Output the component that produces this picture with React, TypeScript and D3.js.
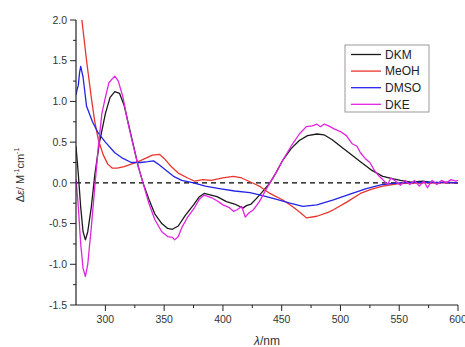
import React from "react";
import * as d3 from "d3";

const seriesNames = ["DKM", "MeOH", "DMSO", "DKE"];
const seriesColors = ["#1a1a1a", "#e8352b", "#2424e6", "#e024e0"];

const dkmX = [275,277,279,281,283,285,288,291,295,300,304,308,312,316,320,324,328,332,337,342,348,353,357,362,368,375,380,384,390,395,403,410,417,420,424,428,433,440,445,451,458,465,472,480,486,493,500,508,517,526,536,545,551,560,570,580,590,600];
const dkmY = [0.45,0.1,-0.3,-0.6,-0.7,-0.6,-0.3,0.1,0.5,0.85,1.05,1.12,1.1,0.95,0.7,0.45,0.2,0.0,-0.2,-0.38,-0.5,-0.56,-0.57,-0.53,-0.4,-0.27,-0.17,-0.13,-0.15,-0.17,-0.23,-0.26,-0.31,-0.28,-0.26,-0.2,-0.12,0.0,0.12,0.28,0.42,0.52,0.58,0.6,0.59,0.53,0.45,0.36,0.26,0.16,0.08,0.05,0.03,0.01,0.02,0.0,0.01,0.0];

const meohX = [280,284,288,291,294,298,302,306,310,316,322,328,334,340,346,350,356,362,370,376,383,390,400,409,416,422,428,432,440,451,460,467,471,480,490,494,505,517,526,536,550,570,600];
const meohY = [2.0,1.5,1.05,0.75,0.53,0.35,0.23,0.18,0.18,0.2,0.23,0.26,0.3,0.34,0.35,0.3,0.2,0.12,0.06,0.02,0.04,0.03,0.06,0.08,0.06,0.02,-0.02,-0.05,-0.13,-0.21,-0.3,-0.38,-0.43,-0.41,-0.36,-0.33,-0.24,-0.13,-0.08,-0.04,-0.01,0.0,0.0];

const dmsoX = [275,276,277,278,279,281,284,289,294,300,308,315,322,330,336,341,346,352,358,365,375,385,397,410,423,432,445,457,468,480,494,510,522,536,550,575,600];
const dmsoY = [1.08,1.15,1.2,1.35,1.43,1.3,0.94,0.75,0.61,0.5,0.37,0.3,0.25,0.25,0.26,0.27,0.22,0.15,0.08,0.03,0.0,-0.04,-0.07,-0.1,-0.12,-0.15,-0.2,-0.25,-0.29,-0.27,-0.21,-0.13,-0.07,-0.02,0.0,0.01,0.0];

const dkeX = [275,277,279,281,283,285,288,291,294,297,300,303,306,308,311,315,319,323,328,332,337,342,348,353,357,359,362,365,370,376,380,384,390,395,400,405,409,412,416,419,422,426,431,436,440,445,451,458,465,471,476,480,483,486,490,495,500,505,510,514,517,521,525,529,533,536,540,543,547,551,555,559,563,567,571,574,578,582,586,590,594,598,600];
const dkeY = [0.05,-0.3,-0.75,-1.05,-1.15,-1.0,-0.55,-0.05,0.45,0.85,1.05,1.23,1.28,1.31,1.25,1.05,0.75,0.5,0.2,0.0,-0.25,-0.45,-0.6,-0.66,-0.67,-0.7,-0.66,-0.55,-0.42,-0.3,-0.2,-0.15,-0.18,-0.22,-0.27,-0.3,-0.35,-0.33,-0.29,-0.42,-0.37,-0.33,-0.23,-0.1,0.0,0.12,0.28,0.45,0.6,0.69,0.7,0.72,0.69,0.72,0.7,0.66,0.63,0.58,0.48,0.45,0.37,0.3,0.25,0.15,0.08,0.04,-0.02,0.06,0.02,-0.03,0.03,-0.02,0.03,-0.04,0.02,-0.06,0.03,-0.02,0.03,0.0,0.04,0.02,0.03];

const xTicks = [300, 350, 400, 450, 500, 550, 600];
const xMinor = [325, 375, 425, 475, 525, 575];
const yTicks = [-1.5, -1.0, -0.5, 0.0, 0.5, 1.0, 1.5, 2.0];
const yMinor = [-1.25, -0.75, -0.25, 0.25, 0.75, 1.25, 1.75];

export default function App() {
  const W = 465, H = 347;
  const x = d3.scaleLinear().domain([275, 600]).range([76, 458]);
  const y = d3.scaleLinear().domain([-1.5, 2.0]).range([305, 20]);
  const line = d3.line<[number, number]>().x(d => x(d[0])).y(d => y(d[1]));
  const xs = [dkmX, meohX, dmsoX, dkeX];
  const ys = [dkmY, meohY, dmsoY, dkeY];
  const font = "Liberation Sans, Arial, sans-serif";
  const tc = "#333";
  return (
    <svg width={W} height={H} style={{ position: "absolute", left: 0, top: 0 }} fontFamily={font}>
      <rect width={W} height={H} fill="#fff" />
      <defs>
        <clipPath id="plot">
          <rect x={76} y={20} width={382} height={285} />
        </clipPath>
      </defs>
      <line x1={x(275)} x2={x(600)} y1={y(0)} y2={y(0)} stroke="#000" strokeWidth={1.2} strokeDasharray="5,4" />
      <g clipPath="url(#plot)">
        {xs.map((xa, i) => (
          <path key={i} d={line(xa.map((v, j) => [v, ys[i][j]] as [number, number])) || ""} fill="none" stroke={seriesColors[i]} strokeWidth={1.3} strokeLinejoin="round" />
        ))}
      </g>
      {/* axes */}
      <line x1={76} x2={76} y1={y(2.0)} y2={y(-1.5)} stroke="#222" strokeWidth={1.2} />
      <line x1={76} x2={458} y1={305} y2={305} stroke="#222" strokeWidth={1.2} />
      {yTicks.map(t => (
        <g key={t}>
          <line x1={70} x2={76} y1={y(t)} y2={y(t)} stroke="#222" strokeWidth={1} />
          <text x={67} y={y(t)} dy="0.35em" textAnchor="end" fontSize={10.5} fill={tc}>{t.toFixed(1)}</text>
        </g>
      ))}
      {yMinor.map(t => (
        <line key={t} x1={73} x2={76} y1={y(t)} y2={y(t)} stroke="#222" strokeWidth={1} />
      ))}
      {xTicks.map(t => (
        <g key={t}>
          <line x1={x(t)} x2={x(t)} y1={305} y2={311} stroke="#222" strokeWidth={1} />
          <text x={x(t)} y={323} textAnchor="middle" fontSize={10.5} fill={tc}>{t}</text>
        </g>
      ))}
      {xMinor.map(t => (
        <line key={t} x1={x(t)} x2={x(t)} y1={305} y2={308} stroke="#222" strokeWidth={1} />
      ))}
      <text x={267} y={345} textAnchor="middle" fontSize={12} fill={tc}>
        <tspan fontStyle="italic">λ</tspan>/nm
      </text>
      <text transform="translate(24,175) rotate(-90)" textAnchor="middle" fontSize={11} fill={tc}>
        Δ<tspan fontStyle="italic">ε</tspan>/ M<tspan dy="-5" fontSize={7}>-1</tspan><tspan dy="5">cm</tspan><tspan dy="-5" fontSize={7}>-1</tspan>
      </text>
      {/* legend */}
      <rect x={345} y={45} width={84} height={67} fill="#fff" stroke="#999" strokeWidth={1} />
      {seriesNames.map((n, i) => {
        const ly = 54.5 + i * 16.6;
        return (
          <g key={n}>
            <line x1={351} x2={381} y1={ly} y2={ly} stroke={seriesColors[i]} strokeWidth={1.3} />
            <text x={385} y={ly} dy="0.35em" fontSize={12} fill="#222">{n}</text>
          </g>
        );
      })}
    </svg>
  );
}
